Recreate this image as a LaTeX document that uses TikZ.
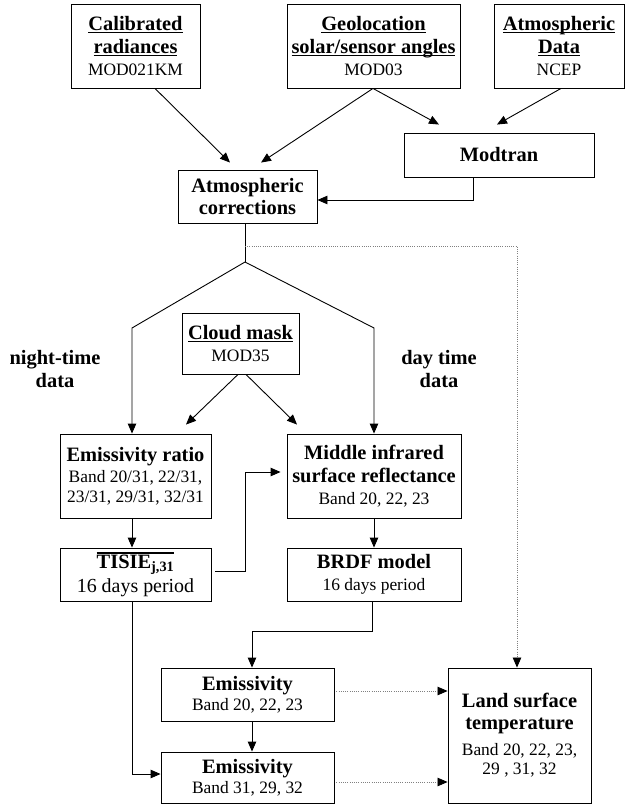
\documentclass[tikz,border=0pt]{standalone}
\usepackage{fontspec}
\setmainfont{Liberation Serif}
\usetikzlibrary{arrows.meta,calc}
\newcommand\hd{\fontsize{20.5}{23}\selectfont\bfseries}
\newcommand\sm{\fontsize{17.5}{23}\selectfont\mdseries}
\newcommand\myul[1]{\setbox0\hbox{#1}\rlap{\rule[-3bp]{\wd0}{1.3bp}}\box0}
\newcommand\myovl[1]{\vbox{\hrule height 1.6pt\kern 1.2pt\hbox{#1}}}
\tikzset{
  box/.style={draw, line width=0.9bp, inner sep=0pt, align=center, font=\fontsize{20.5}{23}\selectfont},
  lab/.style={font=\fontsize{20.5}{24}\selectfont\bfseries, align=center, inner sep=0pt},
  arr/.style={-{Triangle[length=10bp,width=8.5bp]}, line width=0.9bp},
  ln/.style={line width=0.9bp},
  dotarr/.style={-{Triangle[length=10bp,width=8.5bp,color=black]}, draw=gray, line width=0.8bp, dash pattern=on 1bp off 1.2bp}
}
\begin{document}
\begin{tikzpicture}[x=1bp,y=-1bp]
\useasboundingbox (0,0) rectangle (626,808);
% boxes
\node[box,minimum width=129bp,minimum height=84bp] (cal) at (135.5,46) {\hd\myul{Calibrated}\\\hd\myul{radiances}\\\sm MOD021KM};
\node[box,minimum width=173bp,minimum height=84bp] (geo) at (373.5,46) {\hd\myul{Geolocation}\\\hd\myul{solar/sensor angles}\\\sm MOD03};
\node[box,minimum width=130bp,minimum height=84bp] (atm) at (559,46) {\hd\myul{Atmospheric}\\\hd\myul{Data}\\\sm NCEP};
\node[box,minimum width=190bp,minimum height=44bp] (modtran) at (499,155) {\hd Modtran};
\node[box,minimum width=139bp,minimum height=53bp] (atmcorr) at (247.5,196.5) {\hd Atmospheric\\\hd corrections};
\node[box,minimum width=117bp,minimum height=61bp] (cloud) at (240.5,343.5) {\hd\myul{Cloud mask}\\\sm MOD35};
\node[box,minimum width=151bp,minimum height=84bp] (emr) at (135.5,476) {\hd Emissivity ratio\\[-2bp]\sm Band 20/31, 22/31,\\[-3bp]\sm 23/31, 29/31, 32/31};
\node[box,minimum width=174bp,minimum height=84bp] (mir) at (374,476) {\hd Middle infrared\\\hd surface reflectance\\[-1bp]\sm Band 20, 22, 23};
\node[box,minimum width=151bp,minimum height=53bp] (tisie) at (135.5,574.5) {\hd\myovl{TISIE\textsubscript{j,31}}\\[1bp]\fontsize{20}{23}\selectfont\mdseries 16 days period};
\node[box,minimum width=174bp,minimum height=53bp] (brdf) at (374,574.5) {\hd BRDF model\\[-1bp]\sm 16 days period};
\node[box,minimum width=173bp,minimum height=53bp] (em1) at (247.5,694.5) {\hd Emissivity\\[-3bp]\sm Band 20, 22, 23};
\node[box,minimum width=173bp,minimum height=51bp] (em2) at (247.5,777.5) {\hd Emissivity\\[-3bp]\sm Band 31, 29, 32};
\node[box,minimum width=143bp,minimum height=135bp] (lst) at (519.5,735.5) {\hd Land surface\\[-1bp]\hd temperature\\[3bp]\sm Band 20, 22, 23,\\[-4bp]\sm 29 , 31, 32};
% labels
\node[lab] (night) at (55,369) {night-time\\data};
\node[lab] (day) at (439,369) {day time\\data};
% coordinates
\coordinate (apex) at (245,262);
\coordinate (dsplit) at (245,246);
% connectors top
\draw[arr] ($(cal.south)+(19.5,0)$) -- ($(atmcorr.north)+(-17.5,-7)$);
\draw[arr] ($(geo.south)+(-0.5,0)$) -- ($(atmcorr.north)+(13.5,-7)$);
\draw[arr] ($(geo.south)+(-0.5,0)$) -- ($(modtran.north)+(-60,-8)$);
\draw[arr] ($(atm.south)+(2,0)$) -- ($(modtran.north)+(-2,-8)$);
\draw[arr] ($(modtran.south)+(-26,0)$) |- ($(atmcorr.east)+(0,3.5)$);
% split
\draw[ln] ($(atmcorr.south)+(-2.5,0)$) -- (apex);
\draw[arr] (apex) -- (132,328) -- ($(emr.north)+(-3.5,0)$);
\draw[arr] (apex) -- (374,328) -- (mir.north);
\draw[dotarr] (dsplit) -| ($(lst.north)+(-2.5,0)$);
% cloud mask
\draw[arr] ($(cloud.south)+(-2.5,0)$) -- ($(emr.north)+(50.5,-9)$);
\draw[arr] ($(cloud.south)+(5.5,0)$) -- ($(mir.north)+(-77,-9)$);
% middle
\draw[arr] ($(emr.south)+(-3.5,0)$) -- ($(tisie.north)+(-3.5,0)$);
\draw[arr] (mir.south) -- (brdf.north);
\draw[arr] ($(tisie.east)+(4,-3.5)$) -- ++(30,0) |- ($(mir.west)+(-6,-4)$);
% bottom
\draw[arr] ($(brdf.south)+(-2,0)$) -- ++(0,30) -| ($(em1.north)+(4.5,0)$);
\draw[arr] ($(tisie.south)+(-3.5,0)$) |- ($(em2.west)+(0,-3.5)$);
\draw[arr] ($(em1.south)+(4.5,0)$) -- ($(em2.north)+(4.5,0)$);
\draw[dotarr] ($(em1.east)+(2,-3.5)$) -- ($(lst.west)+(0,-44.5)$);
\draw[dotarr] ($(em2.east)+(2,4.5)$) -- ($(lst.west)+(0,46.5)$);
\end{tikzpicture}
\end{document}
